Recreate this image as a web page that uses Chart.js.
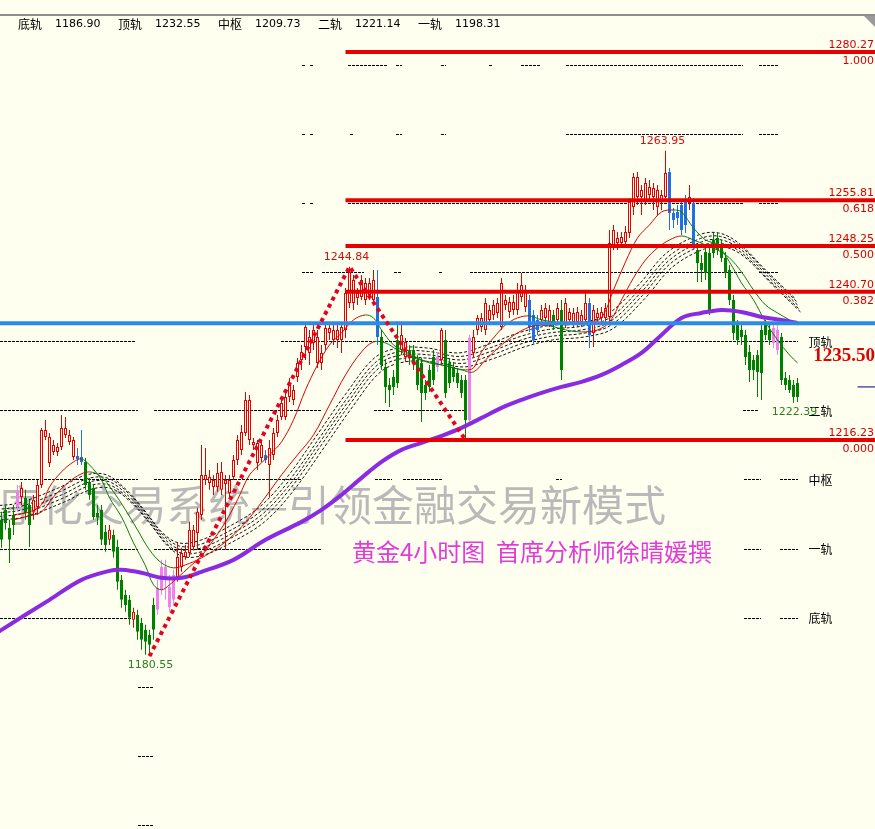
<!DOCTYPE html>
<html>
<head>
<meta charset="utf-8">
<script src="https://cdn.jsdelivr.net/npm/chart.js@4.4.1/dist/chart.umd.min.js"></script>
<style>
  html, body { margin: 0; padding: 0; background: #FFFFF0; overflow: hidden; }
  #wrap { position: relative; width: 875px; height: 829px; }
  #chart { position: absolute; left: 0; top: 0; }
  #topline { position: absolute; left: 0; top: 14px; width: 875px; height: 0; border-top: 2px solid #8e8e8e; }
  #corner { position: absolute; right: 0; top: 16px; width: 0; height: 0; border-top: 11px solid #9a9a9a; border-left: 11px solid transparent; }
  #info { position: absolute; left: 18px; top: 17px; display: flex; font: 11px "DejaVu Sans", "Noto Sans CJK SC", sans-serif; color: #000; white-space: nowrap; }
  #info .pair { width: 100px; display: flex; }
  #info .name { width: 37px; font-family: "Noto Sans CJK SC", sans-serif; font-size: 12px; line-height: 13px; }
</style>
</head>
<body>
<div id="wrap">
  <canvas id="chart" width="875" height="829"></canvas>
  <div id="topline"></div>
  <div id="corner"></div>
  <div id="info"></div>
</div>
<script>
// 4h candles, oldest first
const opens = [
  1203.05, 1204.70, 1201.73, 1203.87, 1205.19, 1206.84, 1206.68, 1205.52, 1204.37, 1205.19,
  1208.82, 1216.74, 1212.45, 1214.27, 1214.27, 1215.09, 1217.07, 1215.92, 1213.44, 1213.61,
  1213.44, 1212.62, 1209.32, 1208.33, 1204.20, 1204.70, 1201.07, 1199.75, 1200.57, 1198.59,
  1193.15, 1190.67, 1189.85, 1186.55, 1187.37, 1186.05, 1184.90, 1184.07, 1189.02, 1188.20,
  1191.50, 1193.15, 1188.69, 1189.85, 1193.64, 1195.29, 1196.94, 1197.60, 1198.59, 1200.90,
  1203.87, 1209.65, 1209.15, 1208.49, 1208.49, 1208.00, 1208.99, 1207.50, 1210.14, 1212.95,
  1214.60, 1217.40, 1216.25, 1215.42, 1212.45, 1213.28, 1213.77, 1212.12, 1213.77, 1217.40,
  1220.04, 1220.04, 1223.34, 1222.85, 1226.64, 1229.45, 1231.59, 1230.60, 1232.25, 1228.95,
  1228.95, 1231.92, 1233.90, 1232.75, 1232.75, 1232.75, 1234.40, 1238.85, 1238.85, 1239.68,
  1239.84, 1239.35, 1240.17, 1239.35, 1239.84, 1233.24, 1228.29, 1225.32, 1226.64, 1232.75,
  1231.10, 1229.94, 1231.10, 1231.10, 1229.45, 1228.95, 1225.32, 1227.80, 1229.94, 1228.29,
  1229.45, 1232.75, 1228.95, 1228.29, 1227.30, 1226.15, 1226.15, 1219.55, 1230.60, 1234.40,
  1234.89, 1234.40, 1236.05, 1236.87, 1237.20, 1234.89, 1238.52, 1237.37, 1237.70, 1237.70,
  1239.84, 1238.19, 1239.35, 1236.87, 1236.05, 1236.05, 1236.38, 1235.72, 1236.87, 1236.05,
  1237.70, 1235.55, 1236.05, 1235.72, 1235.72, 1235.72, 1236.05, 1238.85, 1233.90, 1236.38,
  1236.38, 1236.38, 1236.54, 1248.09, 1248.75, 1248.75, 1248.92, 1250.40, 1254.69, 1256.34,
  1256.34, 1255.85, 1256.67, 1256.34, 1254.69, 1255.52, 1256.34, 1260.47, 1253.70, 1253.87,
  1255.02, 1255.85, 1255.35, 1255.35, 1247.60, 1245.45, 1247.27, 1247.10, 1249.25, 1249.58,
  1248.42, 1246.28, 1244.30, 1239.35, 1235.22, 1234.40, 1233.57, 1230.77, 1229.45, 1230.27,
  1234.40, 1235.22, 1234.40, 1232.25, 1231.10, 1233.24, 1226.48, 1226.15, 1225.32, 1225.65
];
const highs = [
  1204.37, 1205.52, 1203.05, 1205.52, 1208.82, 1209.32, 1208.00, 1206.35, 1207.17, 1209.65,
  1218.23, 1219.55, 1217.40, 1216.25, 1215.75, 1220.37, 1220.04, 1217.90, 1216.74, 1214.93,
  1217.90, 1213.28, 1209.98, 1208.82, 1205.52, 1205.52, 1202.22, 1202.22, 1201.40, 1199.75,
  1193.97, 1191.50, 1190.67, 1188.53, 1188.20, 1186.88, 1185.72, 1184.90, 1190.18, 1193.15,
  1196.45, 1196.45, 1193.97, 1194.80, 1199.25, 1198.43, 1198.92, 1202.72, 1202.22, 1205.03,
  1215.42, 1214.93, 1211.30, 1210.47, 1212.45, 1212.62, 1210.47, 1210.47, 1213.77, 1217.07,
  1218.72, 1224.17, 1223.67, 1216.58, 1216.25, 1216.25, 1214.60, 1216.25, 1218.23, 1220.37,
  1223.18, 1224.17, 1226.48, 1225.32, 1229.78, 1231.92, 1235.22, 1234.40, 1235.22, 1234.40,
  1231.92, 1235.72, 1235.72, 1235.22, 1235.22, 1235.72, 1241.33, 1244.84, 1243.47, 1241.33,
  1243.47, 1242.98, 1242.98, 1244.30, 1244.30, 1234.40, 1229.45, 1226.48, 1227.80, 1235.22,
  1235.22, 1233.08, 1231.92, 1231.92, 1230.27, 1229.78, 1226.15, 1228.62, 1231.10, 1230.77,
  1234.73, 1234.40, 1229.78, 1229.12, 1228.13, 1226.97, 1226.97, 1233.57, 1234.40, 1236.87,
  1237.20, 1239.68, 1238.52, 1239.35, 1239.68, 1242.98, 1240.17, 1239.84, 1240.17, 1242.15,
  1243.80, 1241.82, 1240.17, 1237.70, 1236.87, 1238.52, 1238.85, 1238.52, 1237.70, 1238.85,
  1239.35, 1239.68, 1238.03, 1238.03, 1238.19, 1237.70, 1240.50, 1239.68, 1238.52, 1238.03,
  1238.19, 1238.85, 1250.90, 1251.72, 1250.57, 1250.57, 1251.56, 1256.18, 1260.30, 1260.47,
  1258.32, 1259.48, 1259.15, 1258.65, 1258.32, 1257.50, 1263.95, 1261.13, 1254.53, 1255.02,
  1255.85, 1256.67, 1258.32, 1256.18, 1248.42, 1246.77, 1248.42, 1247.93, 1250.40, 1250.57,
  1249.25, 1247.27, 1245.12, 1240.17, 1236.05, 1235.22, 1234.40, 1231.92, 1230.27, 1231.10,
  1235.72, 1236.05, 1235.22, 1235.55, 1235.22, 1233.90, 1227.47, 1226.97, 1226.15, 1226.48
];
const lows = [
  1198.43, 1201.40, 1195.95, 1200.57, 1204.37, 1205.52, 1203.05, 1198.59, 1203.05, 1203.87,
  1208.33, 1216.25, 1211.79, 1213.77, 1213.61, 1214.60, 1216.58, 1215.42, 1212.95, 1212.12,
  1212.12, 1208.00, 1206.35, 1203.05, 1202.22, 1198.92, 1197.77, 1198.92, 1196.78, 1191.50,
  1188.53, 1187.87, 1185.72, 1185.23, 1183.25, 1181.60, 1180.77, 1180.55, 1183.25, 1187.37,
  1190.67, 1189.85, 1187.87, 1189.02, 1192.82, 1194.47, 1196.45, 1196.94, 1198.10, 1198.10,
  1203.05, 1208.82, 1208.00, 1207.17, 1207.67, 1207.17, 1198.10, 1206.68, 1209.65, 1212.12,
  1213.77, 1216.91, 1215.42, 1214.60, 1211.30, 1212.62, 1212.45, 1206.84, 1212.95, 1216.74,
  1219.55, 1219.55, 1222.52, 1222.02, 1225.82, 1227.80, 1229.45, 1228.62, 1231.10, 1228.13,
  1227.80, 1231.10, 1232.75, 1231.92, 1231.43, 1230.60, 1233.08, 1238.03, 1237.70, 1238.52,
  1239.35, 1238.52, 1239.35, 1238.52, 1231.92, 1227.80, 1222.35, 1221.69, 1223.67, 1224.83,
  1230.27, 1229.12, 1228.62, 1227.80, 1224.50, 1219.22, 1222.85, 1224.17, 1225.32, 1227.47,
  1228.62, 1223.18, 1224.83, 1225.82, 1224.83, 1223.18, 1216.23, 1218.72, 1229.78, 1233.57,
  1234.07, 1233.57, 1235.22, 1236.05, 1236.38, 1234.40, 1237.70, 1236.38, 1236.87, 1236.87,
  1239.02, 1237.37, 1234.07, 1231.92, 1233.57, 1235.22, 1235.55, 1234.89, 1234.40, 1235.22,
  1226.15, 1234.73, 1235.22, 1234.89, 1234.89, 1234.89, 1235.22, 1231.43, 1231.59, 1235.55,
  1235.72, 1235.55, 1235.72, 1247.60, 1247.60, 1247.93, 1248.09, 1249.58, 1253.37, 1255.02,
  1253.37, 1255.02, 1255.85, 1254.20, 1253.37, 1254.20, 1255.52, 1250.90, 1251.23, 1251.72,
  1250.07, 1250.40, 1254.20, 1247.60, 1242.32, 1242.32, 1242.65, 1236.87, 1246.28, 1246.77,
  1245.62, 1242.98, 1238.52, 1232.75, 1231.92, 1231.92, 1228.62, 1225.82, 1226.15, 1223.34,
  1222.85, 1232.75, 1231.92, 1231.43, 1230.27, 1225.32, 1224.50, 1224.00, 1222.39, 1222.52
];
const closes = [
  1199.75, 1202.55, 1199.75, 1202.22, 1207.67, 1208.33, 1204.20, 1202.22, 1206.35, 1208.82,
  1217.90, 1217.90, 1216.74, 1215.42, 1215.09, 1218.23, 1218.23, 1217.07, 1216.25, 1213.11,
  1212.62, 1208.82, 1207.17, 1203.54, 1203.38, 1199.75, 1198.92, 1201.40, 1197.77, 1192.82,
  1189.85, 1189.02, 1186.88, 1187.87, 1184.57, 1183.25, 1182.92, 1182.42, 1184.90, 1191.83,
  1195.29, 1195.29, 1191.99, 1193.97, 1196.94, 1197.60, 1197.77, 1201.40, 1201.40, 1204.37,
  1210.47, 1210.47, 1210.14, 1209.65, 1210.80, 1210.97, 1209.65, 1209.65, 1212.95, 1216.25,
  1217.57, 1222.85, 1222.85, 1215.92, 1215.75, 1215.42, 1212.95, 1214.93, 1217.40, 1219.55,
  1222.35, 1223.34, 1225.65, 1224.50, 1228.95, 1230.77, 1234.89, 1233.24, 1234.40, 1233.24,
  1230.60, 1234.73, 1234.73, 1234.40, 1234.40, 1234.89, 1240.50, 1243.97, 1242.65, 1240.50,
  1242.65, 1242.15, 1242.15, 1242.65, 1233.24, 1228.62, 1224.99, 1224.50, 1224.99, 1225.65,
  1233.57, 1232.42, 1229.78, 1228.95, 1225.32, 1224.00, 1224.00, 1224.99, 1226.15, 1229.94,
  1234.40, 1224.00, 1225.65, 1226.64, 1225.65, 1224.00, 1219.55, 1233.08, 1233.24, 1236.38,
  1236.38, 1238.85, 1237.70, 1238.52, 1238.85, 1242.15, 1239.35, 1239.02, 1239.02, 1241.00,
  1241.82, 1241.00, 1234.89, 1232.75, 1234.40, 1237.70, 1238.03, 1237.70, 1235.22, 1238.03,
  1227.80, 1238.85, 1237.37, 1237.20, 1237.37, 1236.87, 1238.85, 1233.57, 1237.70, 1237.20,
  1237.37, 1238.03, 1248.75, 1250.90, 1249.58, 1249.74, 1250.57, 1255.52, 1259.64, 1259.64,
  1257.50, 1258.65, 1257.99, 1257.83, 1257.50, 1256.67, 1260.30, 1253.70, 1252.55, 1252.88,
  1250.90, 1251.72, 1256.34, 1248.42, 1245.45, 1244.30, 1243.80, 1237.70, 1247.10, 1247.60,
  1246.28, 1243.80, 1239.35, 1233.90, 1232.75, 1233.24, 1229.94, 1227.80, 1227.80, 1227.47,
  1227.30, 1233.57, 1232.75, 1234.73, 1234.40, 1226.15, 1225.32, 1224.50, 1223.34, 1223.34
];
// bars painted in the signal colours
const blueBars = [19, 20, 66, 94, 132, 133, 134, 147, 167, 168, 169, 170, 171, 173];
const pinkBars = [4, 39, 40, 41, 42, 43, 109, 117, 193, 194];

// moving averages: [bar, price]
const maFast = [
  [3, 1203.87], [7, 1204.37], [10, 1205.52], [12, 1208.49], [15, 1210.97], [18, 1212.62], [20, 1213.11],
  [22, 1212.12], [25, 1209.65], [27, 1206.68], [30, 1203.54], [33, 1199.25], [36, 1195.46], [38, 1192.33],
  [40, 1191.50], [42, 1192.33], [44, 1193.48], [47, 1195.29], [50, 1197.11], [53, 1199.75], [56, 1202.72],
  [59, 1206.35], [62, 1210.47], [65, 1212.45], [67, 1213.77], [70, 1215.92], [73, 1219.55], [76, 1224.50],
  [79, 1228.62], [82, 1231.92], [85, 1233.90], [88, 1236.05], [91, 1236.87], [93, 1236.38], [95, 1234.40],
  [98, 1231.92], [101, 1230.77], [104, 1229.78], [107, 1228.95], [110, 1228.62], [113, 1228.13],
  [116, 1227.80], [118, 1228.13], [120, 1230.77], [123, 1233.08], [126, 1235.22], [129, 1236.38],
  [132, 1236.71], [135, 1236.05], [138, 1235.72], [141, 1235.22], [144, 1235.55], [147, 1235.72],
  [150, 1236.38], [153, 1241.00], [156, 1245.62], [159, 1249.58], [162, 1251.72], [165, 1253.87],
  [168, 1254.20], [170, 1253.87], [173, 1251.23], [176, 1249.25], [179, 1248.42], [182, 1245.62],
  [185, 1242.15], [188, 1239.35], [191, 1235.72], [194, 1232.75], [197, 1230.27], [199, 1228.95]
];
const maSlow = [
  [3, 1203.05], [7, 1203.71], [10, 1204.37], [13, 1206.84], [16, 1208.82], [19, 1210.31], [22, 1210.97],
  [25, 1210.14], [28, 1207.67], [31, 1204.70], [34, 1201.40], [37, 1198.10], [40, 1195.95], [43, 1195.13],
  [46, 1195.62], [50, 1196.78], [54, 1198.43], [58, 1200.57], [62, 1203.38], [66, 1206.84], [70, 1210.47],
  [74, 1213.77], [78, 1217.07], [82, 1222.02], [86, 1226.97], [90, 1230.77], [93, 1232.42], [96, 1232.25],
  [99, 1231.10], [103, 1229.78], [107, 1229.12], [111, 1228.46], [115, 1227.80], [118, 1227.47],
  [121, 1229.45], [125, 1231.92], [129, 1233.90], [133, 1235.06], [137, 1235.06], [141, 1234.40],
  [145, 1234.07], [149, 1234.40], [152, 1235.72], [155, 1239.35], [158, 1242.98], [161, 1245.94],
  [164, 1247.93], [167, 1249.25], [170, 1249.91], [173, 1249.25], [176, 1248.42], [179, 1247.60],
  [182, 1246.28], [185, 1243.97], [188, 1241.00], [191, 1238.52], [194, 1237.20], [197, 1236.05], [199, 1235.22]
];
const maLong = [
  [-1, 1184.40], [0, 1184.90], [12, 1189.85], [20, 1193.15], [27, 1194.63], [30, 1194.80], [35, 1194.31],
  [40, 1193.48], [45, 1193.48], [50, 1194.47], [58, 1196.45], [66, 1199.75], [75, 1202.72], [80, 1204.70],
  [85, 1207.17], [90, 1209.98], [95, 1212.62], [100, 1214.60], [105, 1215.75], [110, 1216.91],
  [115, 1218.23], [120, 1219.88], [125, 1221.53], [130, 1222.85], [135, 1224.00], [140, 1224.99],
  [145, 1225.82], [150, 1226.97], [155, 1228.62], [160, 1230.60], [165, 1233.57], [170, 1236.38],
  [175, 1237.20], [180, 1237.70], [185, 1237.37], [190, 1236.54], [195, 1236.05], [199, 1235.55]
];
const band = [
  [-1, 1204.20], [5, 1204.68], [15, 1207.17], [22, 1209.32], [27, 1209.32], [32, 1206.84], [37, 1203.05],
  [41, 1199.75], [45, 1198.10], [50, 1198.43], [57, 1200.57], [65, 1203.87], [72, 1208.82], [80, 1216.25],
  [87, 1222.85], [94, 1228.62], [100, 1230.27], [107, 1230.27], [115, 1229.45], [122, 1230.77],
  [130, 1232.75], [137, 1233.90], [145, 1234.40], [152, 1235.72], [160, 1240.67], [167, 1245.94],
  [175, 1248.92], [180, 1249.25], [185, 1247.60], [192, 1242.98], [199, 1238.52]
];

// zigzag swing points
const zigzagBars = [37, 87, 116];
const zigzagSides = ['low', 'high', 'low'];
const swingHighs = [87, 166];
const swingLows = [37, 198];

// fibonacci retracement
const fibLevels = [1280.27, 1255.81, 1248.25, 1240.70, 1216.23];
const fibRatios = ['1.000', '0.618', '0.500', '0.382', '0.000'];
const fibStartBar = 86;
const keyLevel = 1235.50;
const lastTick = 1224.99;

// daily pivot rails
const pivotLevels = [1278.19, 1266.78, 1255.37, 1243.96, 1232.55, 1221.14, 1209.73, 1198.31, 1186.90, 1175.49, 1164.08, 1152.67];
const pivotSpans = [
  [[75, 75.8], [77, 78], [86.5, 96.5], [98.5, 100], [109.8, 111.2], [121.8, 122.8], [129.8, 134.8], [141, 185.3], [189.3, 194]],
  [[75, 75.8], [77, 78], [87, 88], [98.5, 100], [109.8, 111.2], [141, 185.3], [189.3, 194]],
  [[75, 75.8], [77, 78], [86.5, 185.3], [189.3, 194]],
  [[75.2, 78], [80.2, 90.5], [98, 100.2], [109.3, 110.3], [117.2, 185.3], [189.3, 194]],
  [[-0.4, 33.5], [69.8, 199.2]],
  [[-0.4, 34], [38, 79.8], [93, 98], [100.2, 116.5], [185.3, 189.3]],
  [[-0.4, 34], [38, 75], [93.3, 97.5], [100.3, 110], [138.5, 140], [185.5, 189.8], [194.5, 199.2]],
  [[-0.4, 34], [38, 79.8], [185.5, 189.8], [194.5, 199.2]],
  [[-0.4, 34], [185.5, 189.8], [194.5, 199.2]],
  [[34, 38]], [[34, 38]], [[34, 38]]
];
const railNames = ['底轨', '顶轨', '中枢', '二轨', '一轨'];
const railValues = [1186.90, 1232.55, 1209.73, 1221.14, 1198.31];

const watermark = '序化交易系统—引领金融交易新模式';
const subtitle = '黄金4小时图  首席分析师徐晴媛撰';

// ---- styling ----
const X_MIN = -0.375, X_MAX = 218.375;
const RED = '#E60000', GREEN = '#008000', BLUE = '#1E6FE8', PINK = '#F080F0', BG = '#FFFFF0';

function kind(i) {
  if (blueBars.includes(i)) return 'blue';
  if (pinkBars.includes(i)) return 'pink';
  return closes[i] >= opens[i] ? 'up' : 'down';
}
const fillOf = { up: BG, down: GREEN, blue: BLUE, pink: PINK };
const edgeOf = { up: RED, down: GREEN, blue: BLUE, pink: PINK };

const pts = arr => arr.map(([x, y]) => ({ x, y }));
const slopeColor = c => c.p1.parsed.y >= c.p0.parsed.y ? '#E00000' : '#0B7A0B';

const info = document.getElementById('info');
railNames.forEach((n, k) => {
  const p = document.createElement('span');
  p.className = 'pair';
  p.innerHTML = '<span class="name">' + n + '</span><span>' + railValues[k].toFixed(2) + '</span>';
  info.appendChild(p);
});

// draws one line dataset as several parallel dashed strokes
const parallelStrokes = {
  id: 'parallelStrokes',
  beforeDatasetDraw(chart, args) {
    const ds = chart.data.datasets[args.index];
    if (!ds.strokeOffsets) return;
    const ctx = chart.ctx;
    ds.strokeOffsets.forEach(([dx, dy]) => {
      ctx.save();
      ctx.translate(dx, dy);
      args.meta.controller.draw();
      ctx.restore();
    });
    return false;
  }
};

const overlay = {
  id: 'overlay',
  beforeDatasetsDraw(chart) {
    const { ctx, scales: { x, y } } = chart;
    ctx.save();
    ctx.fillStyle = '#B9B9B9';
    ctx.font = '42px "Noto Sans CJK SC"';
    ctx.textAlign = 'right';
    ctx.textBaseline = 'middle';
    ctx.fillText(watermark, 666, 505);

    ctx.strokeStyle = '#000';
    ctx.lineWidth = 1;
    ctx.setLineDash([3, 1]);
    pivotLevels.forEach((lv, k) => {
      const py = Math.round(y.getPixelForValue(lv)) + 0.5;
      pivotSpans[k].forEach(([a, b]) => {
        ctx.beginPath();
        ctx.moveTo(Math.round(x.getPixelForValue(a)), py);
        ctx.lineTo(Math.round(x.getPixelForValue(b)), py);
        ctx.stroke();
      });
    });
    ctx.restore();
  },
  afterDatasetsDraw(chart) {
    const { ctx, scales: { x, y }, chartArea } = chart;
    const right = chartArea.right - 1;
    ctx.save();
    ctx.textBaseline = 'middle';

    ctx.font = '11px "DejaVu Sans"';
    ctx.textAlign = 'right';
    ctx.fillStyle = '#D40000';
    fibLevels.forEach((lv, k) => {
      const py = y.getPixelForValue(lv);
      ctx.fillText(lv.toFixed(2), right, py - 7);
      ctx.fillText(fibRatios[k], right, py + 9);
    });

    ctx.textAlign = 'left';
    ctx.fillStyle = '#000';
    ctx.font = '12px "Noto Sans CJK SC"';
    railNames.forEach((n, k) => {
      ctx.fillText(n, x.getPixelForValue(201.75), y.getPixelForValue(railValues[k]) + 1);
    });

    ctx.textAlign = 'center';
    ctx.font = '11px "DejaVu Sans"';
    ctx.fillStyle = '#D01010';
    swingHighs.forEach(i => ctx.fillText(highs[i].toFixed(2), x.getPixelForValue(i) - 3, y.getPixelForValue(highs[i]) - 10));
    ctx.fillStyle = '#2E7D1E';
    swingLows.forEach(i => ctx.fillText(lows[i].toFixed(2), x.getPixelForValue(i) + 1, y.getPixelForValue(lows[i]) + 9));

    ctx.textAlign = 'right';
    ctx.fillStyle = '#E00000';
    ctx.font = 'bold 19px "Liberation Serif"';
    ctx.fillText(keyLevel.toFixed(2), right + 1, y.getPixelForValue(keyLevel) + 33);

    ctx.textAlign = 'left';
    ctx.fillStyle = '#E23BD9';
    ctx.font = '24px "Noto Sans CJK SC"';
    ctx.fillText(subtitle, 352, 552);
    ctx.restore();
  }
};

const datasets = [
  {
    type: 'line', label: 'band', data: pts(band), order: 20,
    borderColor: '#111', borderWidth: 1, borderDash: [3, 2], tension: 0.35,
    pointRadius: 0, strokeOffsets: [[-3, -7], [-1, -3.5], [0, 0], [1, 3.5], [3, 7]]
  },
  {
    type: 'bar', label: 'wick', order: 12, grouped: false, barThickness: 1, inflateAmount: 0,
    data: highs.map((h, i) => ({ x: i, y: [lows[i], h] })),
    backgroundColor: c => edgeOf[kind(c.dataIndex)], borderWidth: 0
  },
  {
    type: 'bar', label: 'body', order: 11, grouped: false, barThickness: 3, inflateAmount: 0,
    data: opens.map((o, i) => ({ x: i, y: [o, closes[i]] })),
    backgroundColor: c => fillOf[kind(c.dataIndex)],
    borderColor: c => edgeOf[kind(c.dataIndex)],
    borderWidth: 1, borderSkipped: false, minBarLength: 1
  },
  {
    type: 'line', label: 'slow', data: pts(maSlow), order: 6, borderWidth: 1, tension: 0.35,
    pointRadius: 0, segment: { borderColor: slopeColor }, borderColor: '#B00000'
  },
  {
    type: 'line', label: 'fast', data: pts(maFast), order: 5, borderWidth: 1, tension: 0.35,
    pointRadius: 0, segment: { borderColor: slopeColor }, borderColor: '#E00000'
  },
  {
    type: 'line', label: 'long', data: pts(maLong), order: 4, borderColor: '#8A2BE2',
    borderWidth: 4, tension: 0.35, pointRadius: 0
  },
  ...fibLevels.map(lv => ({
    type: 'line', label: 'fib ' + lv, order: 3, borderColor: '#E60000', borderWidth: 4, pointRadius: 0,
    data: [{ x: fibStartBar, y: lv }, { x: X_MAX, y: lv }]
  })),
  {
    type: 'line', label: 'key', order: 3, borderColor: '#2A8CE6', borderWidth: 4, pointRadius: 0,
    data: [{ x: X_MIN, y: keyLevel }, { x: X_MAX, y: keyLevel }]
  },
  {
    type: 'line', label: 'last', order: 3, borderColor: '#000080', borderWidth: 1, pointRadius: 0,
    data: [{ x: 214, y: lastTick }, { x: X_MAX, y: lastTick }]
  },
  {
    type: 'line', label: 'zigzag', order: 1, borderColor: '#E8001E', borderWidth: 4,
    borderDash: [4, 4], pointRadius: 0, tension: 0,
    data: zigzagBars.map((b, k) => ({ x: b, y: zigzagSides[k] === 'high' ? highs[b] : lows[b] }))
  }
];

new Chart(document.getElementById('chart'), {
  type: 'bar',
  data: { datasets },
  options: {
    responsive: false,
    animation: false,
    events: [],
    layout: { padding: 0 },
    plugins: { legend: { display: false }, tooltip: { enabled: false } },
    scales: {
      x: { type: 'linear', min: X_MIN, max: X_MAX, offset: false, display: false },
      y: { type: 'linear', min: 1152.03, max: 1288.85, beginAtZero: false, display: false }
    }
  },
  plugins: [parallelStrokes, overlay]
});
</script>
</body>
</html>
